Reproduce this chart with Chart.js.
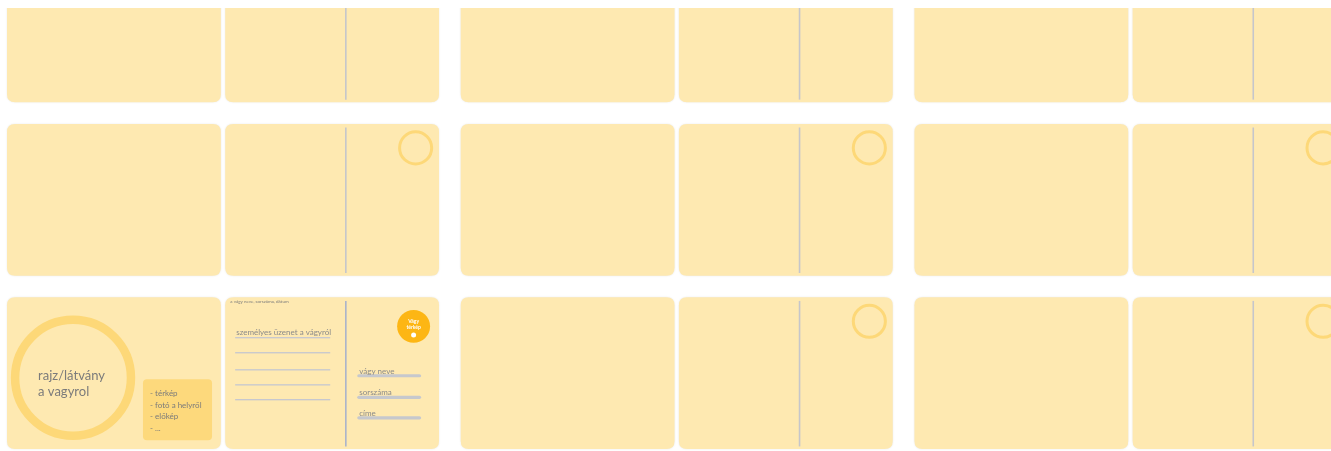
<!DOCTYPE html>
<html lang="hu">
<head>
<meta charset="utf-8">
<title>Vágy képeslapok</title>
<script src="https://cdn.jsdelivr.net/npm/chart.js@4/dist/chart.umd.min.js"></script>
<style>
  html, body { margin: 0; padding: 0; background: #fff; }
  #wrap { width: 1331px; height: 451px; position: relative; }
</style>
</head>
<body>
<div id="wrap"><canvas id="lapok"></canvas></div>
<script>
// Ívek, sorok, oldalak (egy ív = előlap + hátlap páros)
const sheets = ['1. ív', '2. ív', '3. ív'];
const rows = ['1. sor', '2. sor', '3. sor'];
const sides = ['előlap', 'hátlap'];

// Kitöltött minta: csak az 1. ív 3. sora
const filledSheet = 0;
const filledRow = 2;

// Szövegek
const frontTitle = ['rajz/látvány', 'a vagyrol'];
const frontList = ['- térkép', '- fotó a helyről', '- előkép', '- ...'];
const backTop = 'a vágy neve, sorszáma, dátum';
const backHeading = 'személyes üzenet a vágyról';
const backFields = ['vágy neve', 'sorszáma', 'címe'];
const logoText = ['Vágy', 'térkép'];

// A6 képeslap mm-ben
const CARD_W = 148, CARD_H = 105;
const SIDE_PITCH = 151, SHEET_PITCH = 314, ROW_PITCH = 120;

// lapközéppontok (mm)
const cards = [];
sheets.forEach((s, si) => {
  rows.forEach((r, ri) => {
    sides.forEach((side, di) => {
      cards.push({
        x: si * SHEET_PITCH + di * SIDE_PITCH + CARD_W / 2,
        y: ri * ROW_PITCH + CARD_H / 2,
        sheet: si, row: ri, side: di
      });
    });
  });
});

const COL = {
  card: '#FEE9B1',
  ring: '#FDD878',
  note: '#FDD97C',
  divider: '#c5c6cb',
  dividerBlue: '#aab3cb',
  line: '#b4bdd8',
  bar: '#c6c8cd',
  text: '#7b7b7b',
  logo: '#FDB614'
};

function roundRect(ctx, x, y, w, h, r) {
  ctx.beginPath();
  ctx.moveTo(x + r, y);
  ctx.lineTo(x + w - r, y);
  ctx.quadraticCurveTo(x + w, y, x + w, y + r);
  ctx.lineTo(x + w, y + h - r);
  ctx.quadraticCurveTo(x + w, y + h, x + w - r, y + h);
  ctx.lineTo(x + r, y + h);
  ctx.quadraticCurveTo(x, y + h, x, y + h - r);
  ctx.lineTo(x, y + r);
  ctx.quadraticCurveTo(x, y, x + r, y);
  ctx.closePath();
}

// Rajzoló plugin: a pontok helyére képeslapot rajzol
const cardPlugin = {
  id: 'cards',
  afterDatasetsDraw(chart) {
    const ctx = chart.ctx;
    const xs = chart.scales.x;
    const k = xs.getPixelForValue(1) - xs.getPixelForValue(0);
    const meta = chart.getDatasetMeta(0);
    const w = CARD_W * k, h = CARD_H * k;
    const a = chart.chartArea;

    ctx.save();
    // a kép teteje le van vágva
    ctx.beginPath();
    ctx.rect(a.left, a.top, a.right - a.left, a.bottom - a.top);
    ctx.clip();

    meta.data.forEach((pt, i) => {
      const c = cards[i];
      const L = pt.x - w / 2, T = pt.y - h / 2;
      const mm = v => v * k;
      const filled = c.sheet === filledSheet && c.row === filledRow;

      // lap
      ctx.save();
      ctx.shadowColor = 'rgba(0,0,0,0.10)';
      ctx.shadowBlur = 2;
      roundRect(ctx, L, T, w, h, 8);
      ctx.fillStyle = COL.card;
      ctx.fill();
      ctx.restore();

      if (c.side === 1) {
        // elválasztó vonal
        ctx.save();
        ctx.strokeStyle = filled ? COL.dividerBlue : COL.divider;
        ctx.lineWidth = 1.6;
        ctx.beginPath();
        ctx.moveTo(L + mm(83.5), T + mm(2.5));
        ctx.lineTo(L + mm(83.5), T + h - mm(1.8));
        ctx.stroke();
        ctx.restore();

        if (!filled) {
          // bélyeg helye
          ctx.save();
          ctx.strokeStyle = COL.ring;
          ctx.lineWidth = 3;
          ctx.beginPath();
          ctx.arc(L + mm(131.8), T + mm(16.6), mm(11.1), 0, Math.PI * 2);
          ctx.stroke();
          ctx.restore();
        } else {
          drawBack(ctx, L, T, mm);
        }
      } else if (filled) {
        drawFront(ctx, L, T, mm);
      }
    });
    ctx.restore();
  }
};

function drawFront(ctx, L, T, mm) {
  ctx.save();
  // nagy kör
  ctx.strokeStyle = COL.ring;
  ctx.lineWidth = 8.5;
  ctx.beginPath();
  ctx.arc(L + mm(45.7), T + mm(55.7), mm(40.1), 0, Math.PI * 2);
  ctx.stroke();

  ctx.fillStyle = COL.text;
  ctx.textBaseline = 'middle';
  ctx.font = '13px Lato';
  frontTitle.forEach((t, i) => {
    ctx.fillText(t, L + mm(21.5), T + mm(54.3 + i * 11.1));
  });

  // cetli
  roundRect(ctx, L + mm(94.1), T + mm(56.7), mm(47.8), mm(42.2), 4);
  ctx.fillStyle = COL.note;
  ctx.fill();

  ctx.fillStyle = COL.text;
  ctx.font = '8px Lato';
  frontList.forEach((t, i) => {
    ctx.fillText(t, L + mm(99), T + mm(66.8 + i * 7.9));
  });
  ctx.restore();
}

function drawBack(ctx, L, T, mm) {
  ctx.save();
  ctx.fillStyle = COL.text;
  ctx.textBaseline = 'middle';
  ctx.font = '4.5px Lato';
  ctx.fillText(backTop, L + mm(3.5), T + mm(3.1));

  ctx.font = '8px Lato';
  ctx.fillStyle = '#8a8a8a';
  ctx.fillText(backHeading, L + mm(7.6), T + mm(24.4));

  // sorok
  ctx.strokeStyle = COL.line;
  ctx.lineWidth = 1;
  [28, 38.4, 50.2, 60.6, 70.9].forEach(y => {
    ctx.beginPath();
    ctx.moveTo(L + mm(6.9), T + mm(y));
    ctx.lineTo(L + mm(72.7), T + mm(y));
    ctx.stroke();
  });

  // mezők
  ctx.lineCap = 'round';
  ctx.lineWidth = 3.2;
  [54.3, 69.2, 83.4].forEach((y, i) => {
    ctx.strokeStyle = COL.bar;
    ctx.beginPath();
    ctx.moveTo(L + mm(92.5), T + mm(y));
    ctx.lineTo(L + mm(134.5), T + mm(y));
    ctx.stroke();
    ctx.fillStyle = '#8a8a8a';
    ctx.textBaseline = 'alphabetic';
    ctx.fillText(backFields[i], L + mm(92.8), T + mm(y) - 2);
  });

  // logó
  ctx.fillStyle = COL.logo;
  ctx.beginPath();
  ctx.arc(L + mm(130.4), T + mm(20.1), mm(11.4), 0, Math.PI * 2);
  ctx.fill();
  ctx.fillStyle = '#fff';
  ctx.textAlign = 'center';
  ctx.textBaseline = 'middle';
  ctx.font = 'bold 5px Lato';
  ctx.fillText(logoText[0], L + mm(130.4), T + mm(16.5));
  ctx.fillText(logoText[1], L + mm(130.4), T + mm(21));
  ctx.beginPath();
  ctx.arc(L + mm(130.4), T + mm(26), 2.5, 0, Math.PI * 2);
  ctx.fill();
  ctx.restore();
}

const ctx = document.getElementById('lapok').getContext('2d');
new Chart(ctx, {
  type: 'scatter',
  data: {
    datasets: [{
      label: 'képeslapok',
      data: cards.map(c => ({ x: c.x, y: c.y })),
      pointRadius: 0,
      pointHoverRadius: 0
    }]
  },
  options: {
    responsive: true,
    maintainAspectRatio: false,
    animation: false,
    layout: { padding: { top: 8, left: 0, right: 0, bottom: 0 } },
    plugins: { legend: { display: false }, tooltip: { enabled: false } },
    scales: {
      x: { type: 'linear', min: -4.84, max: 916.3, display: false },
      y: { type: 'linear', min: 39.79, max: 346.36, reverse: true, display: false }
    }
  },
  plugins: [cardPlugin]
});
</script>
</body>
</html>
